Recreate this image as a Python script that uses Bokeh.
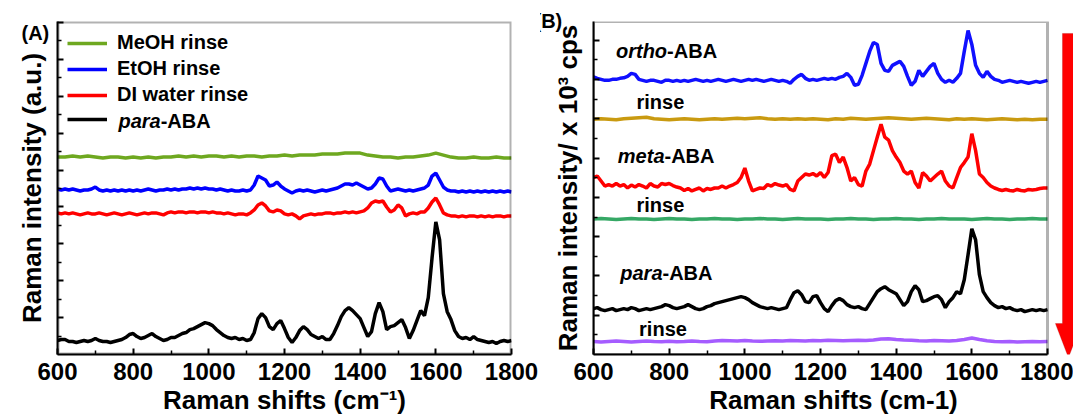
from bokeh.plotting import figure
from bokeh.models import (Range1d, FixedTicker, CustomJSTickFormatter, Legend,
                          LegendItem, Label, PolyAnnotation, Title)
from bokeh.layouts import row
from bokeh.embed import file_html
from bokeh.resources import INLINE

FONT = "Liberation Sans"

# Raman shift grids (cm-1)
shift_fine = list(range(600, 1801, 10))
shift_coarse = list(range(600, 1801, 20))

# ---- Panel A: para-ABA and rinse tests (offset intensities, a.u.)
a_para = [130, 140, 140, 120, 120, 110, 120, 130, 120, 130,
          150, 130, 120, 120, 110, 120, 130, 140, 160, 190,
          200, 170, 150, 160, 180, 200, 170, 150, 130, 140,
          160, 160, 180, 200, 210, 240, 250, 270, 290, 310,
          300, 280, 240, 210, 180, 160, 150, 160, 140, 150,
          130, 140, 210, 350, 400, 360, 270, 240, 300, 330,
          250, 160, 110, 160, 230, 270, 240, 190, 170, 150,
          170, 140, 140, 200, 280, 370, 430, 460, 430, 390,
          350, 260, 170, 220, 400, 510, 420, 240, 270, 280,
          310, 340, 260, 150, 230, 330, 430, 380, 560, 960,
          1320, 1140, 600, 420, 340, 230, 170, 150, 160, 140,
          170, 140, 130, 120, 110, 120, 100, 120, 130, 120,
          130]
a_water = [1410, 1400, 1410, 1400, 1410, 1400, 1390, 1400, 1410, 1400,
           1400, 1410, 1400, 1390, 1400, 1410, 1400, 1390, 1400, 1410,
           1400, 1390, 1400, 1410, 1400, 1410, 1410, 1400, 1390, 1410,
           1420, 1410, 1420, 1420, 1410, 1420, 1420, 1410, 1420, 1420,
           1410, 1420, 1410, 1410, 1400, 1410, 1400, 1390, 1400, 1400,
           1390, 1410, 1440, 1490, 1510, 1480, 1430, 1420, 1440, 1430,
           1400, 1390, 1400, 1380, 1350, 1380, 1390, 1400, 1390, 1400,
           1400, 1410, 1410, 1400, 1410, 1410, 1420, 1410, 1420, 1410,
           1420, 1430, 1460, 1510, 1530, 1520, 1530, 1470, 1420, 1440,
           1490, 1460, 1380, 1400, 1410, 1400, 1420, 1420, 1460, 1520,
           1560, 1490, 1410, 1390, 1380, 1380, 1370, 1380, 1370, 1380,
           1380, 1370, 1380, 1370, 1380, 1370, 1380, 1380, 1370, 1380,
           1380]
a_etoh = [1650, 1640, 1650, 1640, 1650, 1640, 1630, 1640, 1640, 1650,
          1670, 1640, 1630, 1640, 1630, 1640, 1630, 1640, 1630, 1640,
          1630, 1640, 1630, 1640, 1650, 1640, 1630, 1640, 1640, 1650,
          1640, 1650, 1640, 1650, 1650, 1660, 1650, 1660, 1650, 1660,
          1650, 1650, 1640, 1650, 1640, 1630, 1640, 1630, 1630, 1640,
          1630, 1640, 1690, 1780, 1760, 1740, 1680, 1690, 1720, 1680,
          1650, 1630, 1610, 1630, 1640, 1630, 1640, 1630, 1620, 1630,
          1640, 1630, 1640, 1650, 1660, 1680, 1700, 1700, 1690, 1710,
          1690, 1670, 1650, 1660, 1700, 1760, 1750, 1680, 1630, 1640,
          1650, 1640, 1630, 1640, 1630, 1640, 1650, 1660, 1690, 1780,
          1810, 1740, 1670, 1640, 1630, 1630, 1620, 1630, 1620, 1630,
          1620, 1630, 1620, 1630, 1620, 1630, 1620, 1630, 1620, 1630,
          1620]
a_meoh = [1970, 1970, 1980, 1970, 1980, 1970, 1960, 1970, 1970, 1960,
          1970, 1960, 1970, 1960, 1970, 1970, 1980, 1970, 1980, 1970,
          1980, 1980, 1970, 1980, 1970, 1980, 1980, 1970, 1980, 1980,
          1990, 1980, 1990, 1990, 1990, 2000, 2000, 2000, 2010, 2010,
          2010, 1990, 1980, 1970, 1970, 1960, 1970, 1970, 1980, 1990,
          2010, 1990, 1970, 1960, 1960, 1970, 1960, 1960, 1970, 1960,
          1960]

# ---- Panel B: ortho/meta/para-ABA and their rinses (offset intensities)
b_ortho = [2775, 2760, 2750, 2740, 2740, 2750, 2750, 2760, 2765, 2780,
           2810, 2800, 2750, 2740, 2730, 2740, 2740, 2730, 2720, 2740,
           2740, 2730, 2740, 2730, 2740, 2730, 2740, 2750, 2740, 2730,
           2740, 2730, 2740, 2750, 2740, 2730, 2740, 2750, 2740, 2730,
           2740, 2750, 2740, 2750, 2740, 2730, 2740, 2750, 2740, 2730,
           2740, 2730, 2710, 2750, 2780, 2800, 2760, 2740, 2750, 2740,
           2750, 2760, 2750, 2760, 2750, 2770, 2780, 2810, 2770, 2690,
           2700, 2790, 2910, 3030, 3120, 3100, 2910, 2840, 2830, 2890,
           2910, 2930, 2880, 2780, 2690, 2730, 2840, 2780, 2830, 2880,
           2910, 2810, 2750, 2720, 2740, 2720, 2760, 2810, 3030, 3240,
           3100, 2890, 2810, 2770, 2830, 2780, 2750, 2740, 2720, 2730,
           2740, 2730, 2720, 2730, 2720, 2710, 2720, 2730, 2720, 2730,
           2740]
b_ortho_rinse = [2350, 2355, 2350, 2345, 2355, 2360, 2365, 2370, 2355, 2350,
                 2345, 2350, 2355, 2350, 2345, 2350, 2355, 2350, 2355, 2360,
                 2355, 2360, 2365, 2355, 2350, 2355, 2350, 2355, 2350, 2355,
                 2350, 2345, 2355, 2350, 2360, 2355, 2350, 2355, 2360, 2365,
                 2360, 2355, 2350, 2355, 2360, 2355, 2350, 2345, 2355, 2350,
                 2355, 2350, 2345, 2350, 2355, 2350, 2345, 2350, 2345, 2350,
                 2350]
b_meta = [1765, 1780, 1730, 1680, 1695, 1680, 1705, 1680, 1695, 1660,
          1690, 1670, 1695, 1680, 1660, 1705, 1680, 1670, 1705, 1695,
          1705, 1685, 1670, 1660, 1635, 1655, 1630, 1645, 1660, 1630,
          1655, 1645, 1660, 1660, 1680, 1660, 1680, 1695, 1715, 1765,
          1860, 1730, 1630, 1645, 1660, 1655, 1695, 1680, 1705, 1690,
          1680, 1695, 1645, 1630, 1730, 1765, 1800, 1790, 1805, 1780,
          1815, 1765, 1815, 1985, 2000, 1915, 1970, 1865, 1730, 1765,
          1695, 1680, 1830, 1900, 2035, 2170, 2300, 2170, 2140, 2035,
          1970, 1915, 1830, 1800, 1830, 1715, 1660, 1815, 1780, 1730,
          1765, 1800, 1830, 1730, 1680, 1660, 1765, 1865, 1915, 1970,
          2205, 2035, 1800, 1765, 1715, 1680, 1660, 1645, 1635, 1645,
          1635, 1630, 1645, 1635, 1630, 1645, 1640, 1645, 1655, 1660,
          1660]
b_meta_rinse = [1350, 1355, 1350, 1345, 1350, 1355, 1350, 1350, 1345, 1350,
                1355, 1350, 1350, 1345, 1350, 1350, 1355, 1350, 1350, 1345,
                1350, 1350, 1355, 1350, 1350, 1345, 1350, 1355, 1350, 1350,
                1350, 1345, 1350, 1350, 1355, 1350, 1350, 1345, 1350, 1350,
                1355, 1350, 1350, 1345, 1350, 1350, 1355, 1350, 1350, 1350,
                1345, 1350, 1355, 1350, 1350, 1345, 1350, 1350, 1355, 1350,
                1350]
b_para = [450, 460, 440, 430, 440, 450, 430, 440, 450, 440,
          460, 450, 430, 440, 450, 440, 450, 460, 470, 490,
          480, 460, 450, 460, 470, 490, 470, 450, 440, 450,
          470, 480, 500, 510, 520, 530, 540, 550, 560, 570,
          560, 540, 510, 490, 470, 460, 450, 460, 450, 440,
          450, 460, 540, 610, 630, 590, 520, 510, 570, 580,
          510, 450, 420, 480, 530, 550, 530, 490, 470, 460,
          470, 450, 440, 500, 560, 620, 650, 670, 640, 620,
          600, 540, 480, 520, 620, 680, 640, 520, 530, 550,
          570, 580, 540, 460, 520, 560, 620, 600, 740, 990,
          1250, 1140, 790, 620, 560, 510, 480, 460, 470, 450,
          460, 440, 430, 440, 420, 430, 440, 430, 440, 430,
          440]
b_para_rinse = [120, 115, 120, 125, 120, 115, 120, 125, 120, 118,
                122, 118, 120, 125, 120, 118, 125, 130, 128, 125,
                130, 125, 122, 125, 128, 125, 130, 128, 125, 130,
                128, 132, 130, 128, 130, 132, 130, 135, 145, 148,
                140, 135, 132, 128, 125, 130, 128, 125, 130, 140,
                155, 140, 128, 120, 118, 120, 115, 118, 120, 118,
                120]

x_major = list(range(600, 1801, 200))
x_minor = list(range(700, 1800, 200))
X_START, X_END = 600, 1800
Y_START, Y_END = -10, 3330
FRAME_W = 454  # pixel width of the 600-1800 span


def blank_labels():
    return CustomJSTickFormatter(code="return ''")


def make_panel(width, border_left, border_right, y_step, x_title, y_title,
               x_end=X_END, box_width=4):
    p = figure(width=width, height=417, output_backend="svg",
               toolbar_location=None,
               x_range=Range1d(X_START, x_end), y_range=Range1d(Y_START, Y_END),
               min_border_left=border_left, min_border_right=border_right,
               min_border_top=21, min_border_bottom=62)
    p.grid.visible = False
    p.background_fill_color = "white"
    p.border_fill_color = "white"
    p.outline_line_color = None

    xa = p.xaxis[0]
    xa.ticker = FixedTicker(ticks=x_major, minor_ticks=x_minor)
    xa.bounds = (X_START, X_END)
    ya = p.yaxis[0]
    yt = [Y_START + y_step * k for k in range(1, int((Y_END - Y_START) / y_step) + 1)]
    ya.ticker = FixedTicker(ticks=yt[1::2], minor_ticks=yt[0::2])
    ya.formatter = blank_labels()
    ya.major_label_standoff = 0

    for ax in (xa, ya):
        ax.axis_line_width = 2
        ax.major_tick_line_width = 2
        ax.minor_tick_line_width = 1.5
        ax.major_tick_in = 6
        ax.major_tick_out = 0
        ax.minor_tick_in = 4
        ax.minor_tick_out = 0
        ax.axis_label_text_font = FONT
        ax.axis_label_text_font_style = "bold"
        ax.axis_label_text_font_size = "26px"
        ax.axis_label_text_color = "black"
        ax.major_label_text_font = FONT
        ax.major_label_text_font_style = "bold"
        ax.major_label_text_font_size = "24px"
        ax.major_label_text_color = "black"
    xa.axis_label = x_title
    xa.major_label_standoff = 8
    xa.axis_label_standoff = 2
    ya.axis_label = y_title
    ya.axis_label_standoff = 11

    # closed plot box around the 600-1800 span
    p.add_layout(PolyAnnotation(
        xs=[X_START, X_END, X_END, X_START],
        ys=[Y_START, Y_START, Y_END, Y_END],
        fill_alpha=0, line_color="black", line_width=box_width))
    return p


def text_label(p, x, y, text, align="left", style="bold", size="20px"):
    p.add_layout(Label(x=x, y=y, text=text, text_font=FONT,
                       text_font_style=style, text_font_size=size,
                       text_align=align, text_baseline="middle",
                       text_color="black"))


def panel_tag(p, text, offset, standoff):
    p.add_layout(Title(text=text, align="left", offset=offset, text_font=FONT,
                       text_font_style="bold", text_font_size="20px",
                       text_color="black", standoff=standoff), "above")


# ---------------- Panel A ----------------
pa = make_panel(540, 57, 29, 185, "Raman shifts (cm\u207b\u00b9)",
                "Raman intensity (a.u.)")
LW = 3.5
r_para = pa.line(shift_fine, a_para, line_color="black", line_width=LW)
r_water = pa.line(shift_fine, a_water, line_color="#ff0000", line_width=LW)
r_etoh = pa.line(shift_fine, a_etoh, line_color="#0000ff", line_width=LW)
r_meoh = pa.line(shift_coarse, a_meoh, line_color="#6ea820", line_width=LW)

legend = Legend(items=[
    LegendItem(label="MeOH rinse", renderers=[r_meoh]),
    LegendItem(label="EtOH rinse", renderers=[r_etoh]),
    LegendItem(label="DI water rinse", renderers=[r_water]),
    LegendItem(label=" ", renderers=[r_para]),
], location="top_left")
legend.margin = 10
legend.padding = 9
legend.spacing = 3
legend.glyph_width = 40
legend.glyph_height = 20
legend.label_standoff = 10
legend.label_text_font = FONT
legend.label_text_font_style = "bold"
legend.label_text_font_size = "20px"
legend.label_text_color = "black"
legend.border_line_color = None
legend.background_fill_alpha = 0
pa.add_layout(legend)

text_label(pa, 872.8, 2330, "para", align="right", style="bold italic")
text_label(pa, 872.8, 2330, "-ABA")
panel_tag(pa, "(A)", -36, -45)

# ---------------- Panel B ----------------
# the plot area runs on to the page edge so the arrow can sit beside the box
pb_width = 533
pb_left = 53
pb_x_end = X_START + (pb_width - pb_left) * (X_END - X_START) / FRAME_W
pb = make_panel(pb_width, pb_left, 0, 197, "Raman shifts (cm-1)",
                "Raman intensity/ x 10\u00b3 cps", x_end=pb_x_end, box_width=3)
pb.line(shift_coarse, b_para_rinse, line_color="#a55cff", line_width=LW)
pb.line(shift_fine, b_para, line_color="black", line_width=LW)
pb.line(shift_coarse, b_meta_rinse, line_color="#35a865", line_width=LW)
pb.line(shift_fine, b_meta, line_color="#ff0000", line_width=LW)
pb.line(shift_coarse, b_ortho_rinse, line_color="#c99a10", line_width=LW)
pb.line(shift_fine, b_ortho, line_color="#1010ff", line_width=LW)

text_label(pb, 794.5, 3030, "ortho", align="right", style="bold italic")
text_label(pb, 794.5, 3030, "-ABA")
text_label(pb, 713.6, 2520, "rinse")
text_label(pb, 787.7, 1985, "meta", align="right", style="bold italic")
text_label(pb, 787.7, 1985, "-ABA")
text_label(pb, 713.6, 1485, "rinse")
text_label(pb, 782.4, 810, "para", align="right", style="bold italic")
text_label(pb, 782.4, 810, "-ABA")
text_label(pb, 720.5, 245, "rinse")
panel_tag(pb, "(B)", -59, -20)

# downward arrow beside panel B
pb.add_layout(PolyAnnotation(
    xs=[1839.6, 1871, 1871, 1890, 1855.4, 1821, 1839.6],
    ys=[3210, 3210, 300, 300, -40, 300, 300],
    fill_color="#ff0000", fill_alpha=1.0,
    line_color="#b00000", line_width=1))

layout = row(pa, pb, spacing=0)
open("out.html", "w").write(file_html(layout, INLINE))
